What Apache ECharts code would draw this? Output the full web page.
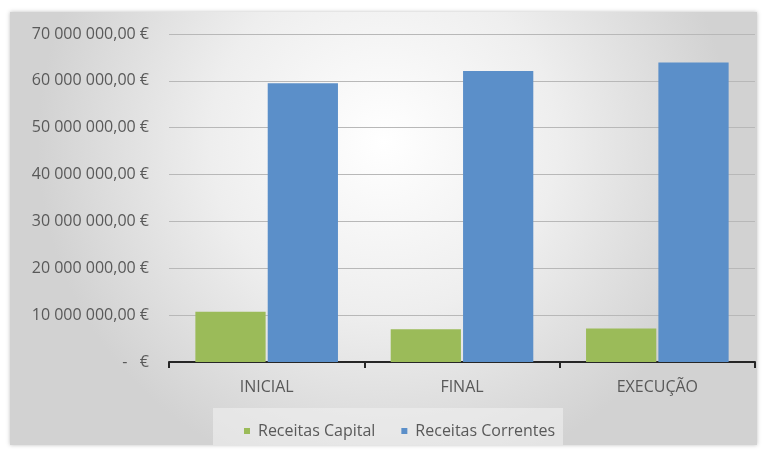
<!DOCTYPE html>
<html>
<head>
<meta charset="utf-8">
<script src="https://cdn.jsdelivr.net/npm/echarts@6/dist/echarts.min.js"></script>
<style>html,body{margin:0;padding:0;background:#fff;}#c{width:766px;height:450px;}</style>
</head>
<body>
<div id="c"></div>
<script>
const categories = ['INICIAL', 'FINAL', 'EXECUÇÃO'];
const seriesNames = ['Receitas Capital', 'Receitas Correntes'];
const receitasCapital = [10700000, 7000000, 7150000];
const receitasCorrentes = [59500000, 62100000, 63900000];
const yTicks = [0, 10000000, 20000000, 30000000, 40000000, 50000000, 60000000, 70000000];

function fmt(v) {
  if (v === 0) return '-   €';
  const s = Math.round(v).toString().replace(/\B(?=(\d{3})+(?!\d))/g, ' ');
  return s + ',00 €';
}

const chart = echarts.init(document.getElementById('c'), null, {renderer: 'canvas'});
const font = '"Open Sans", Lato, sans-serif';
chart.setOption({
  animation: false,
  backgroundColor: '#ffffff',
  graphic: [{
    type: 'rect', z: -10, silent: true,
    shape: {x: 10, y: 12, width: 747, height: 433},
    style: {
      fill: {type: 'radial', x: 0.5, y: 0.3, r: 0.8,
        colorStops: [{offset: 0, color: '#ffffff'}, {offset: 0.5, color: '#eeeeee'}, {offset: 1, color: '#d2d2d2'}]},
      shadowBlur: 4, shadowColor: 'rgba(0,0,0,0.25)', shadowOffsetX: 0, shadowOffsetY: 0
    }
  }, {
    type: 'rect', z: -5, silent: true,
    shape: {x: 213, y: 408, width: 350, height: 37},
    style: {fill: 'rgba(240,240,240,0.6)'}
  }],
  grid: {left: 169, right: 11, top: 34, bottom: 88, containLabel: false},
  legend: {
    data: seriesNames,
    left: 239, top: 418,
    itemWidth: 6, itemHeight: 6, itemGap: 26,
    icon: 'rect',
    textStyle: {color: '#595959', fontSize: 16, fontFamily: font, padding: [0, 0, 0, 3]}
  },
  xAxis: {
    type: 'category', data: categories,
    axisLine: {show: true, lineStyle: {color: '#262626', width: 2}},
    axisTick: {show: true, length: 6, lineStyle: {color: '#262626', width: 2}},
    axisLabel: {color: '#595959', fontSize: 16, fontFamily: font, margin: 17}
  },
  yAxis: {
    type: 'value', min: 0, max: 70000000, interval: 10000000,
    axisLine: {show: false}, axisTick: {show: false},
    splitLine: {lineStyle: {color: '#b8b8b8', width: 1}},
    axisLabel: {color: '#595959', fontSize: 16, fontFamily: font, margin: 20,
      formatter: function (v) { return yTicks.indexOf(v) >= 0 ? fmt(v) : ''; }}
  },
  series: [{
    name: seriesNames[0], type: 'bar', data: receitasCapital,
    itemStyle: {color: '#9bbb59'}, barGap: '3%', barCategoryGap: '27%'
  }, {
    name: seriesNames[1], type: 'bar', data: receitasCorrentes,
    itemStyle: {color: '#5b8fc9'}, barGap: '3%', barCategoryGap: '27%'
  }]
});
</script>
</body>
</html>
